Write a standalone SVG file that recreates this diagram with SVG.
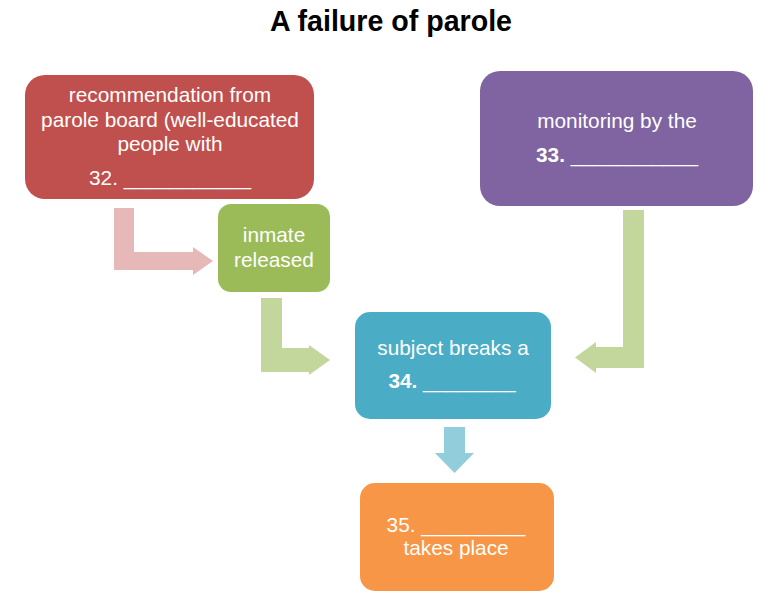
<svg xmlns="http://www.w3.org/2000/svg" width="771" height="603" viewBox="0 0 771 603">
<style>
text{font-family:"Liberation Sans",Arial,sans-serif;text-anchor:middle}
.t{font-size:20.8px;fill:#ffffff}
.b{font-weight:bold}
.title{font-size:28.6px;font-weight:bold;fill:#000000}
</style>
<rect width="771" height="603" fill="#ffffff"/>
<text class="title" x="391" y="31">A failure of parole</text>
<g id="connectors">
<path d="M114,208 H134 V252 H193 V247 L213,261 L193,275 V270 H114 Z" fill="#E6B9B8"/>
<path d="M261,298 H282 V348 H309 V345 L330,360 L309,375 V372 H261 Z" fill="#C3D69B"/>
<path d="M623,210 H644 V368 H596 V373 L575,357.5 L596,342 V347 H623 Z" fill="#C3D69B"/>
<path d="M444,427 H465 V453 H474 L454.5,473 L435,453 H444 Z" fill="#92CDDC"/>
</g>
<g id="node-recommendation">
<rect x="25" y="75" width="289" height="124" rx="20" fill="#C0504D"/>
<text class="t" x="170" y="102">recommendation from</text>
<text class="t" x="170" y="127">parole board (well-educated</text>
<text class="t" x="170" y="151">people with</text>
<text class="t" x="170" y="185">32. ___________</text>
</g>
<g id="node-inmate">
<rect x="218" y="204" width="112" height="88" rx="13" fill="#9BBB59"/>
<text class="t" x="274" y="242">inmate</text>
<text class="t" x="274" y="267">released</text>
</g>
<g id="node-monitoring">
<rect x="480" y="71" width="273" height="135" rx="20" fill="#8064A2"/>
<text class="t" x="617" y="128">monitoring by the</text>
<text class="t" x="617" y="162"><tspan class="b">33.</tspan> ___________</text>
</g>
<g id="node-breaks">
<rect x="355" y="312" width="196" height="107" rx="15" fill="#4BACC6"/>
<text class="t" x="453" y="355">subject breaks a</text>
<text class="t" x="452" y="388"><tspan class="b">34.</tspan> ________</text>
</g>
<g id="node-takes-place">
<rect x="360" y="483" width="194" height="108" rx="15" fill="#F79646"/>
<text class="t" x="456" y="532">35. _________</text>
<text class="t" x="456" y="555">takes place</text>
</g>
</svg>
